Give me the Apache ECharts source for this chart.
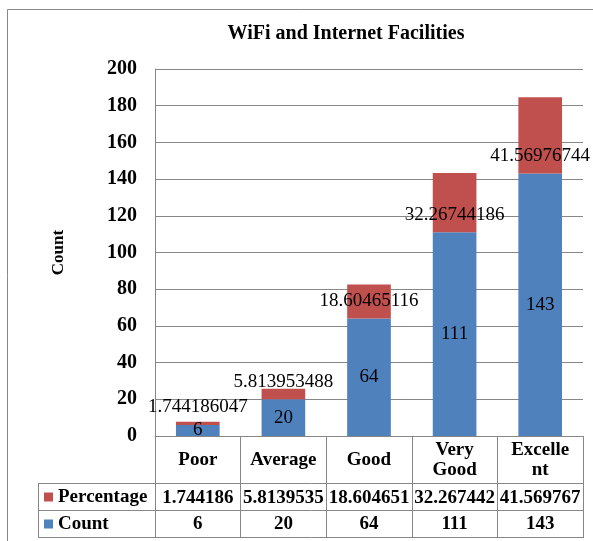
<!DOCTYPE html>
<html>
<head>
<meta charset="utf-8">
<script src="https://cdn.jsdelivr.net/npm/echarts@6/dist/echarts.min.js"></script>
<style>
  html, body { margin: 0; padding: 0; background: #fff; }
  #main { width: 593px; height: 541px; }
</style>
</head>
<body>
<div id="main"></div>
<script>
var categories = ["Poor", "Average", "Good", "Very\nGood", "Excelle\nnt"];
var countValues = [6, 20, 64, 111, 143];
var percentValues = [1.744186047, 5.813953488, 18.60465116, 32.26744186, 41.56976744];
// the table row shows the shortened numbers
var percentTable = ["1.744186", "5.8139535", "18.604651", "32.267442", "41.569767"];
var countTable = ["6", "20", "64", "111", "143"];

var FONT = "Liberation Serif";
var GRID_L = 155, GRID_T = 69, GRID_W = 428, GRID_H = 367;
var gridColor = "#878787";

var chart = echarts.init(document.getElementById("main"));

var option = {
  animation: false,
  color: ["#4F81BD", "#C0504D"],
  title: {
    text: "WiFi and Internet Facilities",
    left: 346,
    top: 24,
    padding: 0,
    textAlign: "center",
    textStyle: { fontFamily: FONT, fontWeight: "bold", fontSize: 20, color: "#000" }
  },
  legend: {
    data: ["Percentage", "Count"],
    orient: "vertical",
    left: 44,
    top: 487,
    padding: 0,
    itemGap: 7,
    itemWidth: 9,
    itemHeight: 9,
    icon: "rect",
    selectedMode: false,
    textStyle: { fontFamily: FONT, fontWeight: "bold", fontSize: 19, color: "#000", lineHeight: 20 }
  },
  grid: { left: GRID_L, top: GRID_T, width: GRID_W, height: GRID_H, containLabel: false },
  xAxis: [
    {
      type: "category",
      data: categories,
      boundaryGap: true,
      axisLine: { lineStyle: { color: gridColor } },
      axisTick: { show: true, interval: 0, alignWithLabel: false, length: 102, lineStyle: { color: gridColor } },
      axisLabel: {
        margin: 24, interval: 0, verticalAlign: "middle", lineHeight: 20,
        fontFamily: FONT, fontWeight: "bold", fontSize: 19, color: "#000"
      }
    },
    {
      type: "category",
      data: percentTable,
      position: "bottom",
      axisLine: { show: false },
      axisTick: { show: false },
      axisLabel: {
        margin: 62, interval: 0, verticalAlign: "middle",
        fontFamily: FONT, fontWeight: "bold", fontSize: 19, color: "#000"
      }
    },
    {
      type: "category",
      data: countTable,
      position: "bottom",
      axisLine: { show: false },
      axisTick: { show: false },
      axisLabel: {
        margin: 88, interval: 0, verticalAlign: "middle",
        fontFamily: FONT, fontWeight: "bold", fontSize: 19, color: "#000"
      }
    }
  ],
  yAxis: {
    type: "value",
    min: 0,
    max: 200,
    interval: 20,
    name: "Count",
    nameLocation: "middle",
    nameRotate: 90,
    nameGap: 88,
    nameTextStyle: { fontFamily: FONT, fontWeight: "bold", fontSize: 17, color: "#000" },
    axisLine: { show: true, lineStyle: { color: gridColor } },
    axisTick: { show: false },
    splitLine: { lineStyle: { color: gridColor } },
    axisLabel: { margin: 18, fontFamily: FONT, fontWeight: "bold", fontSize: 20, color: "#000" }
  },
  series: [
    {
      name: "Count",
      type: "bar",
      stack: "total",
      barWidth: "51%",
      data: countValues,
      label: {
        show: true, position: "inside",
        fontFamily: FONT, fontSize: 19, color: "#000"
      }
    },
    {
      name: "Percentage",
      type: "bar",
      stack: "total",
      barWidth: "51%",
      data: percentValues,
      label: {
        show: true, position: "insideBottom", distance: 8,
        fontFamily: FONT, fontSize: 19, color: "#000"
      }
    }
  ],
  graphic: [
    { type: "rect", shape: { x: 7.5, y: 9.5, width: 620, height: 600 }, style: { fill: null, stroke: gridColor, lineWidth: 1 }, silent: true },
    { type: "line", shape: { x1: 38, y1: 483.5, x2: GRID_L + GRID_W, y2: 483.5 }, style: { stroke: gridColor, lineWidth: 1 } },
    { type: "line", shape: { x1: 38, y1: 510.5, x2: GRID_L + GRID_W, y2: 510.5 }, style: { stroke: gridColor, lineWidth: 1 } },
    { type: "line", shape: { x1: 38, y1: 537.5, x2: GRID_L + GRID_W, y2: 537.5 }, style: { stroke: gridColor, lineWidth: 1 } },
    { type: "line", shape: { x1: 38.5, y1: 483.5, x2: 38.5, y2: 537.5 }, style: { stroke: gridColor, lineWidth: 1 } }
  ]
};

chart.setOption(option);
</script>
</body>
</html>
